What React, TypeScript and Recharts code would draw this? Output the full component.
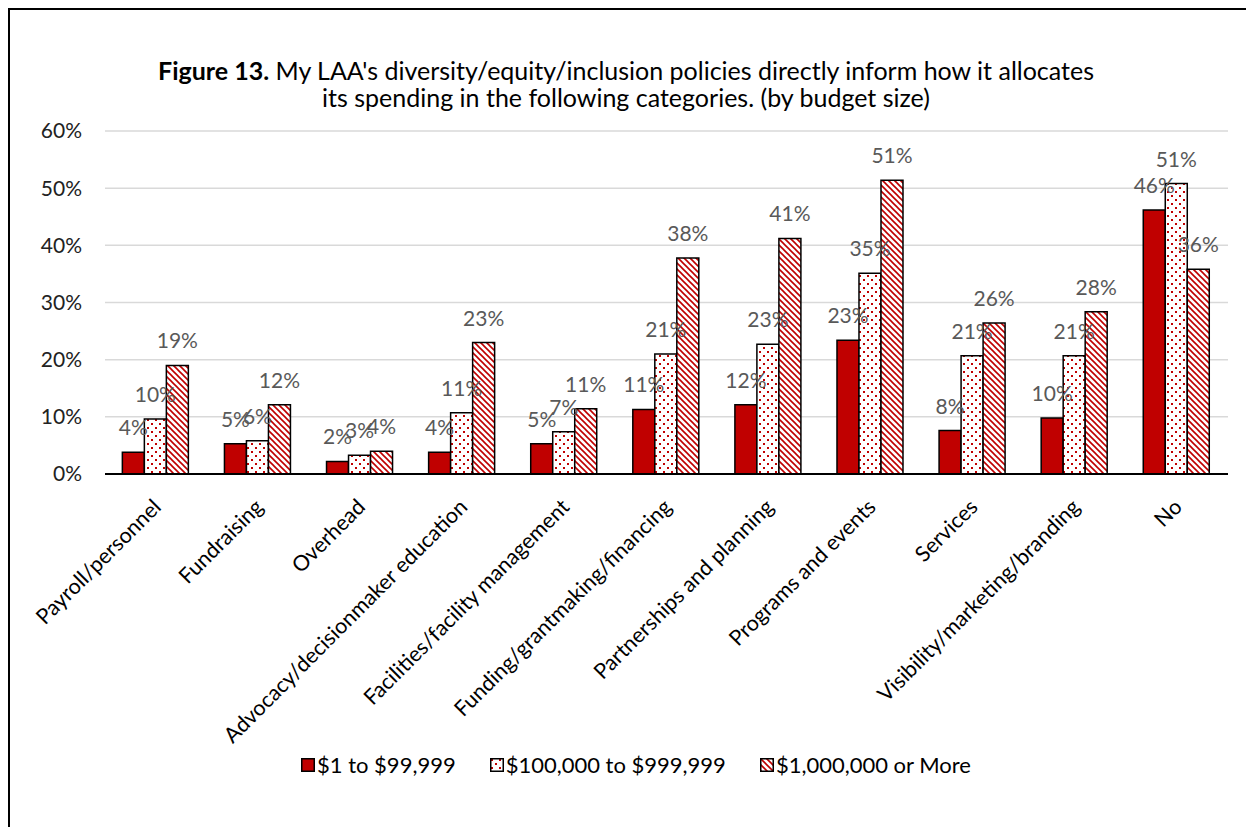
import React from 'react';
import { BarChart, Bar, XAxis, YAxis, CartesianGrid, LabelList, Legend } from 'recharts';

const categories = [
  'Payroll/personnel',
  'Fundraising',
  'Overhead',
  'Advocacy/decisionmaker education',
  'Facilities/facility management',
  'Funding/grantmaking/financing',
  'Partnerships and planning',
  'Programs and events',
  'Services',
  'Visibility/marketing/branding',
  'No',
];
const smallBudget = [3.8, 5.3, 2.2, 3.8, 5.3, 11.3, 12.1, 23.4, 7.6, 9.8, 46.2];
const mediumBudget = [9.6, 5.8, 3.3, 10.7, 7.4, 21.0, 22.7, 35.1, 20.7, 20.7, 50.8];
const largeBudget = [19.0, 12.1, 4.0, 23.0, 11.4, 37.8, 41.2, 51.4, 26.4, 28.4, 35.8];
const seriesNames = ['$1 to $99,999', '$100,000 to $999,999', '$1,000,000 or More'];
const yTicks = [0, 10, 20, 30, 40, 50, 60];

const data = categories.map((c, i) => ({
  category: c,
  small: smallBudget[i],
  medium: mediumBudget[i],
  large: largeBudget[i],
}));

const RED = '#C00000';
const FONT = 'Lato, "Open Sans", sans-serif';
const fills = [RED, 'url(#dotPat)', 'url(#hatchPat)'];

const CatTick = (props: any) => {
  const { x, y, payload } = props;
  return (
    <g transform={`translate(${x + 1},${y + 29})`}>
      <text
        textAnchor="end"
        transform="rotate(-45)"
        fontSize={21.5}
        fontFamily={FONT}
        fill="#000"
        dy="0.35em"
      >
        {payload.value}
      </text>
    </g>
  );
};

const LegendContent = () => (
  <div
    style={{
      display: 'flex',
      justifyContent: 'center',
      alignItems: 'center',
      gap: 34,
      fontFamily: FONT,
      fontSize: 22,
      color: '#000',
    }}
  >
    {seriesNames.map((n, i) => (
      <div key={n} style={{ display: 'flex', alignItems: 'center' }}>
        <svg width={14} height={14} style={{ marginRight: 2 }}>
          <rect x={0.75} y={0.75} width={12.5} height={12.5} fill={fills[i]} stroke="#000" strokeWidth={1.5} />
        </svg>
        <span>{n}</span>
      </div>
    ))}
  </div>
);

const fmtLabel = (v: any) => `${Math.round(Number(v))}%`;

export default function App() {
  return (
    <div
      style={{
        position: 'relative',
        width: 1244,
        height: 817,
        borderLeft: '2px solid #000',
        borderTop: '2px solid #000',
        background: '#fff',
      }}
    >
      <div
        style={{
          position: 'absolute',
          left: 0,
          top: 47,
          width: 1232,
          textAlign: 'center',
          fontFamily: FONT,
          fontSize: 25,
          lineHeight: '27px',
          color: '#000',
        }}
      >
        <b>Figure 13.</b> My LAA's diversity/equity/inclusion policies directly inform how it allocates
        <br />
        its spending in the following categories. (by budget size)
      </div>
      <BarChart
        width={1244}
        height={817}
        data={data}
        margin={{ top: 121, right: 26, bottom: 0, left: 0 }}
        barCategoryGap="17%"
        barGap={0}
      >
        <defs>
          <pattern id="dotPat" width="8" height="8" patternUnits="userSpaceOnUse">
            <rect width="8" height="8" fill="#fff" />
            <rect x="1" y="1" width="2" height="2" fill={RED} />
            <rect x="5" y="5" width="2" height="2" fill={RED} />
          </pattern>
          <pattern id="hatchPat" width="6" height="6" patternUnits="userSpaceOnUse">
            <rect width="6" height="6" fill="#fff" />
            <path d="M0,0 L6,6 M-1,5 L1,7 M5,-1 L7,1" stroke={RED} strokeWidth={1.6} />
          </pattern>
        </defs>
        <CartesianGrid vertical={false} stroke="#D9D9D9" strokeWidth={1.5} />
        <XAxis
          dataKey="category"
          height={353}
          interval={0}
          tick={<CatTick />}
          tickLine={false}
          tickSize={0}
          tickMargin={0}
          axisLine={{ stroke: '#000', strokeWidth: 2 }}
        />
        <YAxis
          width={95}
          domain={[0, 60]}
          ticks={yTicks}
          tickFormatter={(v: number) => `${v}%`}
          axisLine={false}
          tickLine={false}
          tickSize={0}
          tickMargin={23}
          tick={{ fontSize: 21, fontFamily: FONT, fill: '#222' }}
        />
        <Legend
          layout="horizontal"
          verticalAlign="middle"
          align="center"
          content={<LegendContent />}
          wrapperStyle={{ top: 741, left: 10, width: 1232 }}
        />
        {(['small', 'medium', 'large'] as const).map((k, i) => (
          <Bar
            key={k}
            dataKey={k}
            name={seriesNames[i]}
            fill={fills[i]}
            stroke="#000"
            strokeWidth={1.5}
            isAnimationActive={false}
          >
            <LabelList
              dataKey={k}
              position="top"
              offset={17}
              formatter={fmtLabel}
              fill="#595959"
              fontSize={21}
              fontFamily={FONT}
            />
          </Bar>
        ))}
      </BarChart>
    </div>
  );
}
